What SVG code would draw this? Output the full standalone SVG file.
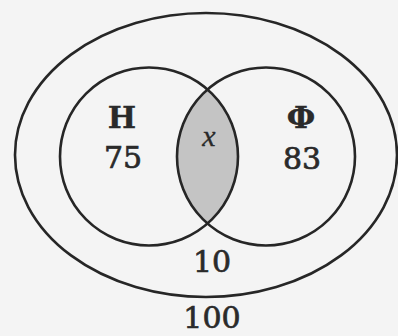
<svg xmlns="http://www.w3.org/2000/svg" width="398" height="336" viewBox="0 0 398 336">
  <defs>
    <style>
      .ln { fill: none; stroke: #262626; stroke-width: 2.6; }
      .t { font-family: "DejaVu Serif", "Liberation Serif", serif; font-size: 30px; fill: #2a2a2a; stroke: #2a2a2a; stroke-width: 0.7; text-anchor: middle; }
      .b { font-weight: bold; stroke-width: 0.3; }
      .i { font-family: "Liberation Serif", "DejaVu Serif", serif; font-style: italic; font-size: 30px; stroke-width: 0.3; }
    </style>
    <clipPath id="clipL">
      <circle cx="149" cy="156.5" r="89"/>
    </clipPath>
  </defs>
  <rect x="0" y="0" width="398" height="336" fill="#f4f4f4"/>
  <g id="universe">
    <ellipse class="ln" cx="206" cy="155" rx="191" ry="142"/>
    <text class="t" x="212" y="272">10</text>
    <text class="t" x="212" y="328">100</text>
  </g>
  <g id="intersection">
    <circle cx="266" cy="156.5" r="89" fill="#c4c4c4" clip-path="url(#clipL)"/>
    <text class="t i" x="209" y="146">x</text>
  </g>
  <g id="set-N">
    <circle class="ln" cx="149" cy="156.5" r="89"/>
    <text class="t b" x="122" y="128">Н</text>
    <text class="t" x="123" y="168">75</text>
  </g>
  <g id="set-F">
    <circle class="ln" cx="266" cy="156.5" r="89"/>
    <text class="t b" x="301" y="128">Ф</text>
    <text class="t" x="302" y="169">83</text>
  </g>
  <g id="connectors"/>
</svg>
